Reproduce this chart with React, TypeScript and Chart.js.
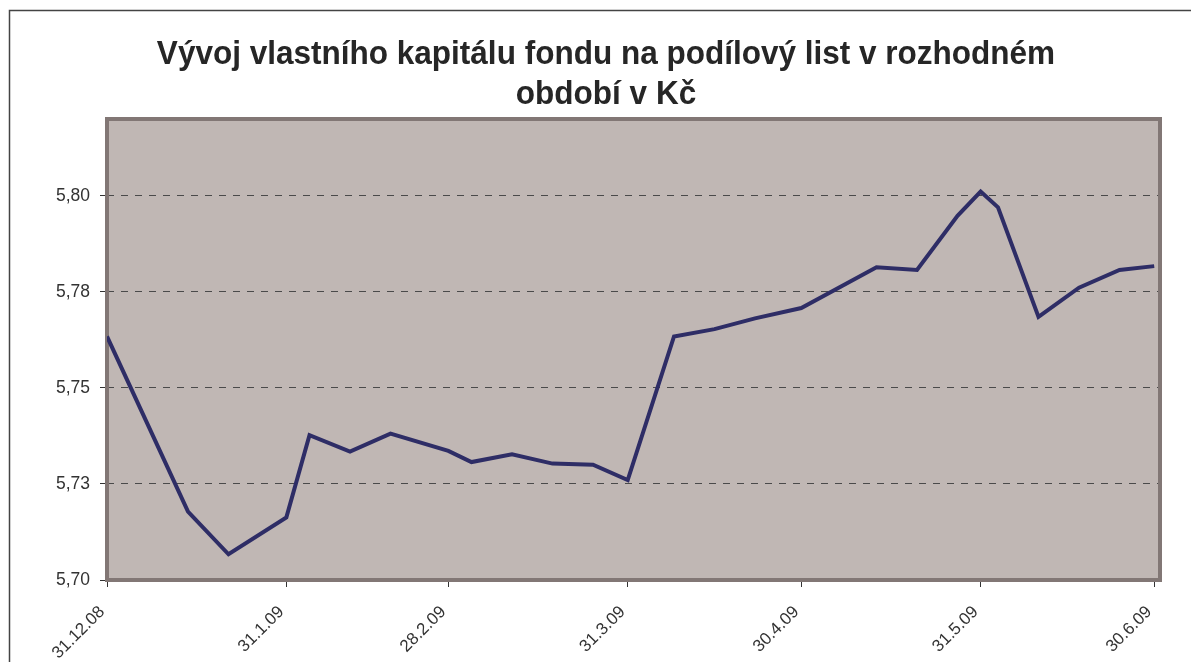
import React, { useEffect, useRef } from "react";
import { Chart, registerables } from "chart.js";

Chart.register(...registerables);

const titleLines = ["Vývoj vlastního kapitálu fondu na podílový list v rozhodném", "období v Kč"];

const dates = [
  "31.12.08", "14.1.09", "21.1.09", "31.1.09", "4.2.09", "11.2.09", "18.2.09", "28.2.09",
  "4.3.09", "11.3.09", "18.3.09", "25.3.09", "31.3.09", "8.4.09", "15.4.09", "22.4.09",
  "30.4.09", "13.5.09", "20.5.09", "27.5.09", "31.5.09", "3.6.09", "10.6.09", "17.6.09",
  "24.6.09", "30.6.09",
];

const values = [
  5.7634, 5.7178, 5.7067, 5.7163, 5.7377, 5.7334, 5.7381, 5.7336,
  5.7307, 5.7327, 5.7303, 5.73, 5.726, 5.7634, 5.7653, 5.7681,
  5.7708, 5.7814, 5.7807, 5.7948, 5.8011, 5.797, 5.7685, 5.7761,
  5.7807, 5.7817,
];

const xTickLabels = ["31.12.08", "31.1.09", "28.2.09", "31.3.09", "30.4.09", "31.5.09", "30.6.09"];
const xAxisEnd = "1.7.09";

const yTickValues = [5.7, 5.725, 5.75, 5.775, 5.8];
const yTickLabels = ["5,70", "5,73", "5,75", "5,78", "5,80"];
const yMin = 5.7;
const yMax = 5.82;

const toDay = (s: string) => {
  const [d, m, y] = s.split(".").map(Number);
  return (Date.UTC(2000 + y, m - 1, d) - Date.UTC(2008, 11, 31)) / 86400000;
};

const FONT = '"Liberation Sans", Arial, sans-serif';

const decorPlugin = {
  id: "decor",
  beforeDraw(chart: any) {
    const { ctx, chartArea: a } = chart;
    ctx.save();
    ctx.fillStyle = "#ffffff";
    ctx.fillRect(0, 0, chart.width, chart.height);
    ctx.fillStyle = "#c0b7b4";
    ctx.fillRect(a.left, a.top, a.right - a.left, a.bottom - a.top);
    ctx.restore();
  },
  beforeDatasetsDraw(chart: any) {
    const { ctx, chartArea: a } = chart;
    ctx.save();
    ctx.strokeStyle = "#827775";
    ctx.lineWidth = 4;
    ctx.strokeRect(a.left, a.top, a.right - a.left, a.bottom - a.top);
    ctx.restore();
  },
  afterDraw(chart: any) {
    const { ctx } = chart;
    ctx.save();
    ctx.strokeStyle = "#444444";
    ctx.lineWidth = 1.5;
    ctx.beginPath();
    ctx.moveTo(9.5, chart.height + 2);
    ctx.lineTo(9.5, 10.5);
    ctx.lineTo(chart.width + 2, 10.5);
    ctx.stroke();
    ctx.fillStyle = "#262626";
    ctx.font = `bold 33px ${FONT}`;
    ctx.textAlign = "center";
    ctx.textBaseline = "alphabetic";
    ctx.translate(606, 0);
    ctx.scale(0.955, 1);
    ctx.fillText(titleLines[0], 0, 64);
    ctx.fillText(titleLines[1], 0, 104);
    ctx.restore();
  },
};

export default function App() {
  const ref = useRef<HTMLCanvasElement>(null);
  useEffect(() => {
    if (!ref.current) return;
    const points = dates.map((d, i) => ({ x: toDay(d), y: values[i] }));
    const xTickDays = xTickLabels.map(toDay);
    const chart = new Chart(ref.current, {
      type: "line",
      data: {
        datasets: [
          {
            data: points,
            borderColor: "#2e2d66",
            borderWidth: 4,
            pointRadius: 0,
            tension: 0,
            borderJoinStyle: "miter",
          },
        ],
      },
      options: {
        animation: false,
        responsive: false,
        devicePixelRatio: 1,
        layout: { padding: { left: 0, top: 119, right: 31, bottom: 0 } },
        plugins: { legend: { display: false }, tooltip: { enabled: false }, title: { display: false } },
        scales: {
          x: {
            type: "linear",
            min: 0,
            max: toDay(xAxisEnd),
            afterBuildTicks: (s: any) => {
              s.ticks = xTickDays.map((v) => ({ value: v }));
            },
            afterFit: (s: any) => {
              s.height = 82;
            },
            ticks: {
              autoSkip: false,
              minRotation: 45,
              maxRotation: 45,
              padding: 15,
              labelOffset: -5,
              color: "#333333",
              font: { family: FONT, size: 17 },
              callback: (_v: any, i: number) => xTickLabels[i],
            },
            grid: { drawOnChartArea: false, tickLength: 7, tickColor: "#333333", lineWidth: 1 },
            border: { display: false },
          },
          y: {
            min: yMin,
            max: yMax,
            afterBuildTicks: (s: any) => {
              s.ticks = yTickValues.map((v) => ({ value: v }));
            },
            afterFit: (s: any) => {
              s.width = 107;
            },
            ticks: {
              padding: 10,
              color: "#333333",
              font: { family: FONT, size: 17.5 },
              callback: (_v: any, i: number) => yTickLabels[i],
            },
            grid: {
              color: (c: any) => (c.index === 0 ? "rgba(0,0,0,0)" : "#4a4a4a"),
              tickColor: "#333333",
              tickLength: 7,
              lineWidth: 1,
            },
            border: { display: false, dash: [7, 7] },
          },
        },
      },
      plugins: [decorPlugin],
    });
    return () => chart.destroy();
  }, []);
  return (
    <div style={{ position: "fixed", left: 0, top: 0, width: 1191, height: 662, background: "#fff" }}>
      <canvas ref={ref} width={1191} height={662} style={{ width: 1191, height: 662, display: "block" }} />
    </div>
  );
}
